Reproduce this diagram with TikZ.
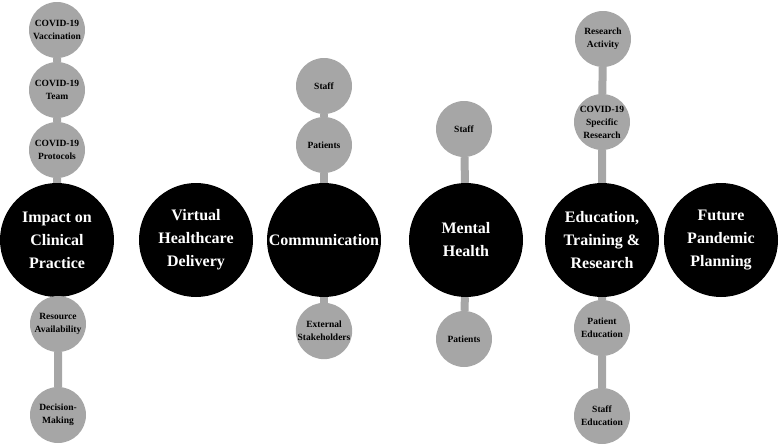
\documentclass[tikz,border=0pt]{standalone}
\usepackage{fontspec}
\setmainfont{Liberation Serif}
\usetikzlibrary{backgrounds}
\definecolor{stemgray}{RGB}{166,166,166}

\begin{document}
\begin{tikzpicture}[x=1pt,y=-1pt,
    theme/.style={circle,fill=black,text=white,minimum size=114pt,inner sep=0pt,align=center,
      font=\fontsize{16}{23}\selectfont\bfseries},
    subtheme/.style={circle,fill=stemgray,text=black,minimum size=56pt,inner sep=0pt,align=center,
      font=\fontsize{9.5}{13}\selectfont\bfseries},
    stem/.style={stemgray,line width=8pt}]
  \useasboundingbox (0,0) rectangle (780,447);
  % main themes
  \foreach \x/\n/\t in {57/impact/{Impact on\\Clinical\\Practice}, 196/virtual/{Virtual\\Healthcare\\Delivery},
      324/comm/{Communication}, 466/mental/{Mental\\Health}, 602/edu/{Education,\\Training \&\\Research},
      721/future/{Future\\Pandemic\\Planning}}
    \node[theme] (\n) at (\x,240) {\t};
  % sub-themes
  \foreach \x/\y/\n/\t in {57/30/vacc/{COVID-19\\Vaccination}, 57/90/team/{COVID-19\\Team},
      57/150/protocols/{COVID-19\\Protocols}, 58/324/resource/{Resource\\Availability},
      58/415/decision/{Decision-\\Making},
      324/86/commstaff/{Staff}, 324/145/commpatients/{Patients}, 324/331/external/{External\\Stakeholders},
      464/129/mentalstaff/{Staff}, 464/339/mentalpatients/{Patients},
      603/39/activity/{Research\\Activity}, 602/122/specific/{COVID-19\\Specific\\Research},
      602/328/patientedu/{Patient\\Education}, 602/416/staffedu/{Staff\\Education}}
    \node[subtheme] (\n) at (\x,\y) {\t};
  % stems
  \begin{scope}[on background layer]
    \draw[stem] (vacc) -- (team) -- (protocols) -- (impact) -- (resource) -- (decision);
    \draw[stem] (commstaff) -- (commpatients) -- (comm) -- (external);
    \draw[stem] (mentalstaff) -- (mental) -- (mentalpatients);
    \draw[stem] (activity) -- (specific) -- (edu) -- (patientedu) -- (staffedu);
  \end{scope}
\end{tikzpicture}
\end{document}
